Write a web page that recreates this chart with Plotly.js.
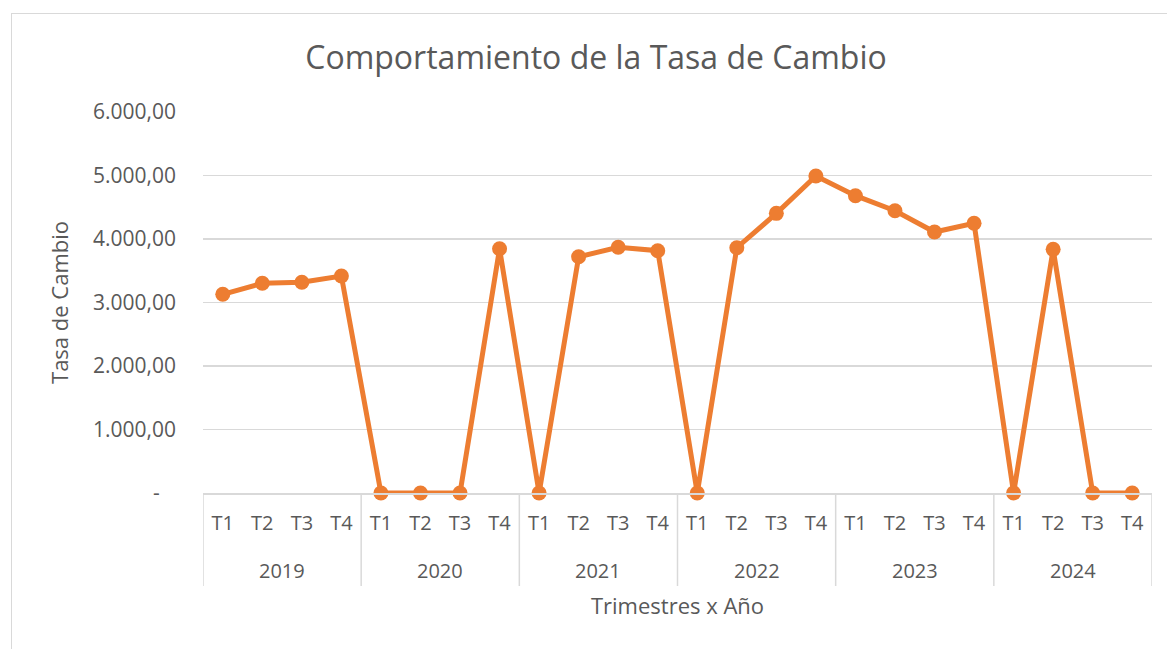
<!DOCTYPE html>
<html>
<head>
<meta charset="utf-8">
<script src="https://cdn.plot.ly/plotly-3.0.1.min.js"></script>
<style>
html,body{margin:0;padding:0;background:#fff;overflow:hidden;}
#frame{position:absolute;left:11px;top:13px;width:1200px;height:700px;border:1.5px solid #d9d9d9;box-sizing:border-box;}
#chart{position:absolute;left:0;top:0;width:1167px;height:649px;}
</style>
</head>
<body>
<div id="frame"></div>
<div id="chart"></div>
<script>
const yearList = ["2019","2020","2021","2022","2023","2024"];
const years = ["2019","2019","2019","2019","2020","2020","2020","2020","2021","2021","2021","2021","2022","2022","2022","2022","2023","2023","2023","2023","2024","2024","2024","2024"];
const quarters = ["T1","T2","T3","T4","T1","T2","T3","T4","T1","T2","T3","T4","T1","T2","T3","T4","T1","T2","T3","T4","T1","T2","T3","T4"];
const tasa = [3129,3302,3318,3417, 0,0,0,3847, 0,3721,3869,3816, 0,3863,4404,4992, 4682,4446,4110,4247, 0,3837,0,0];
const yTickVals = [0,1000,2000,3000,4000,5000,6000];
const yTickText = ["-\u00a0\u00a0\u00a0","1.000,00","2.000,00","3.000,00","4.000,00","5.000,00","6.000,00"];

const txt = "#595959";
const grid = "#d9d9d9";
const font = "Open Sans, sans-serif";

const cats = years.map((y, i) => y + " " + quarters[i]);
const plotH = 649 - 112 - 156;
const divBottom = -(586 - 493) / plotH;

const shapes = [];
for (let k = 0; k <= yearList.length; k++) {
  shapes.push({type: "line", xref: "x", yref: "paper",
    x0: k * 4 - 0.5, x1: k * 4 - 0.5, y0: 0, y1: divBottom,
    line: {color: grid, width: 1.5}});
}
const annotations = yearList.map((yr, k) => ({
  text: yr, xref: "x", yref: "paper", x: k * 4 + 1.5,
  y: -(570 - 493) / plotH, yanchor: "middle", xanchor: "center",
  showarrow: false, font: {family: font, size: 20, color: txt}
}));

Plotly.newPlot("chart", [{
  type: "scatter",
  mode: "lines+markers",
  x: cats,
  y: tasa,
  line: {color: "#ED7D31", width: 5},
  marker: {color: "#ED7D31", size: 15},
  cliponaxis: false,
  hoverinfo: "y"
}], {
  width: 1167, height: 649,
  paper_bgcolor: "rgba(0,0,0,0)",
  plot_bgcolor: "rgba(0,0,0,0)",
  margin: {l: 203, r: 15, t: 112, b: 156},
  showlegend: false,
  title: {
    text: "Comportamiento de la Tasa de Cambio",
    font: {family: font, size: 32, color: txt},
    xref: "container", x: 596/1167, xanchor: "center",
    yref: "container", y: 1 - 58/649, yanchor: "middle"
  },
  shapes: shapes,
  annotations: annotations,
  xaxis: {
    type: "category",
    range: [-0.5, 23.5],
    autorange: false,
    tickvals: cats,
    ticktext: quarters,
    showgrid: false,
    showline: true, linecolor: grid, linewidth: 1.5,
    zeroline: false,
    ticks: "",
    ticklabelstandoff: 11,
    tickfont: {family: font, size: 20, color: txt},
    title: {text: "Trimestres x Año", font: {family: font, size: 22, color: txt}, standoff: 64}
  },
  yaxis: {
    range: [0, 6000],
    tickvals: yTickVals,
    ticktext: yTickText,
    showgrid: true, gridcolor: grid, gridwidth: 1.5,
    zeroline: false,
    showline: false,
    ticks: "",
    ticklabelstandoff: 26,
    tickfont: {family: font, size: 21, color: txt},
    title: {text: "Tasa de Cambio", font: {family: font, size: 22, color: txt}, standoff: 18}
  }
}, {displayModeBar: false, staticPlot: true});
</script>
</body>
</html>
